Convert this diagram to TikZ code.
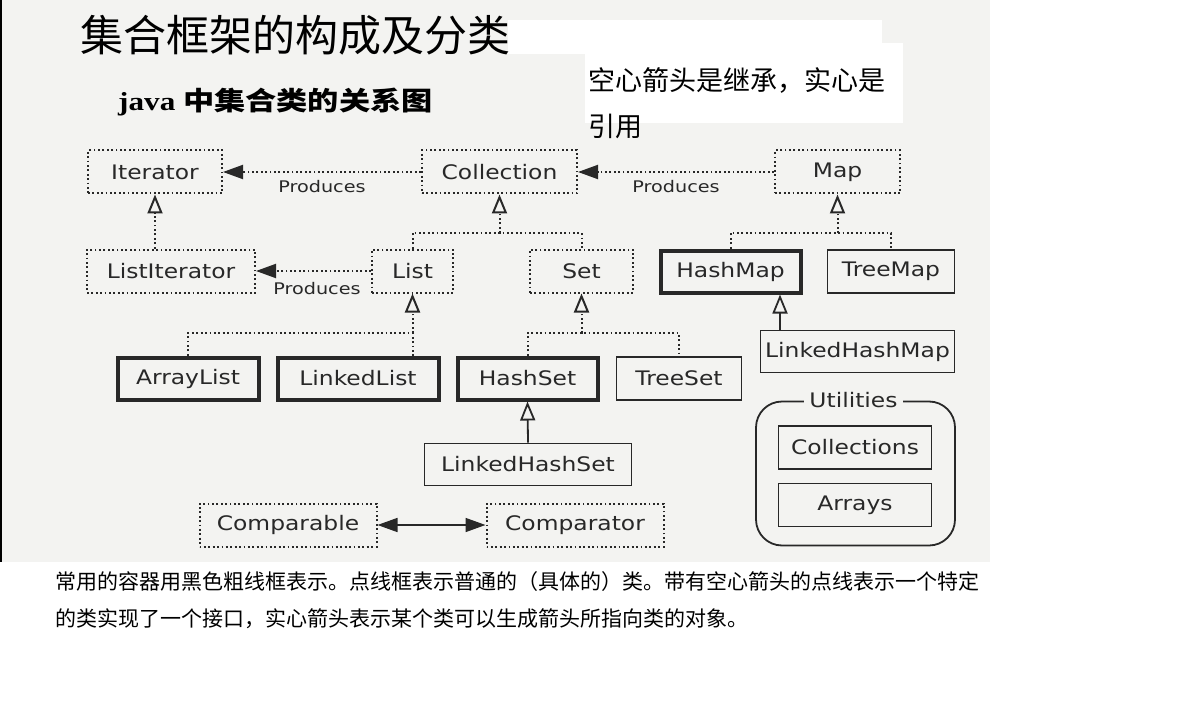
\documentclass[tikz,border=0pt]{standalone}
\usepackage{fontspec}
\usetikzlibrary{arrows.meta}
\newfontfamily\cjk{Noto Sans CJK SC}
\newfontfamily\dvs{DejaVu Sans}
\newfontfamily\tms{Liberation Serif}
\definecolor{bg}{RGB}{243,243,241}
\definecolor{ink}{RGB}{40,40,40}
\newcommand{\sx}[1]{\scalebox{1.17}[1]{#1}}
\tikzset{
  box/.style={draw=ink, minimum height=43pt, inner sep=0pt, text=ink,
    font=\dvs\fontsize{20}{24}\selectfont},
  dotbox/.style={box, line width=2pt, dash pattern=on 1.8pt off 2.6pt},
  thickbox/.style={box, line width=4pt},
  thinbox/.style={box, line width=1.6pt},
  dotline/.style={draw=ink, line width=2pt, dash pattern=on 1.8pt off 2.6pt},
  prod/.style={dotline, -{Triangle[length=20pt,width=14pt]}},
  inh/.style={dotline, -{Triangle[open,length=19pt,width=15pt]}},
  inhsolid/.style={draw=ink, line width=1.8pt, -{Triangle[open,length=19pt,width=15pt]}},
  both/.style={draw=ink, line width=1.6pt, {Triangle[length=20pt,width=14pt]}-{Triangle[length=20pt,width=14pt]}},
  lbl/.style={inner sep=0pt, text=ink, font=\dvs\fontsize{16}{18}\selectfont},
  cjktext/.style={inner sep=0pt, anchor=west, text=black},
}
\begin{document}
\begin{tikzpicture}[x=1pt,y=-1pt]
\useasboundingbox (0,0) rectangle (1182,703);
\fill[white] (0,0) rectangle (1182,703);
\fill[bg] (0,0) rectangle (990,562);
\fill[black] (0,0) rectangle (2,562);
\fill[white] (508,20) rectangle (882,54);
\fill[white] (585,43) rectangle (903,123);

% titles
\node[cjktext, font=\cjk\fontsize{43}{46}\selectfont] (title) at (80,35) {集合框架的构成及分类};
\node[cjktext, font=\fontsize{26}{30}\selectfont] (sub) at (118,102)
  {\scalebox{1.2}[1]{\tms\bfseries java \cjk\bfseries 中集合类的关系图}};
\node[cjktext, font=\cjk\fontsize{27}{30}\selectfont] (note1) at (588,80) {空心箭头是继承，实心是};
\node[cjktext, font=\cjk\fontsize{27}{30}\selectfont] (note2) at (588,126) {引用};

% nodes
\node[dotbox, minimum width=134pt] (Iterator) at (155,172) {\sx{Iterator}};
\node[dotbox, minimum width=155pt] (Collection) at (499.5,172) {\sx{Collection}};
\node[dotbox, minimum width=125pt] (Map) at (837.5,172) {\sx{Map}};
\node[dotbox, minimum width=168pt] (ListIterator) at (171,271) {\sx{ListIterator}};
\node[dotbox, minimum width=81pt] (List) at (412.5,271) {\sx{List}};
\node[dotbox, minimum width=103pt] (Set) at (581.5,271) {\sx{Set}};
\node[thickbox, minimum width=140pt, minimum height=42pt] (HashMap) at (730.5,271.5) {\sx{HashMap}};
\node[thinbox, minimum width=127pt] (TreeMap) at (891,271.5) {\sx{TreeMap}};
\node[thinbox, minimum width=194pt, minimum height=42pt] (LinkedHashMap) at (857.5,351.5) {\sx{LinkedHashMap}};
\node[thickbox, minimum width=141pt, minimum height=42pt] (ArrayList) at (188,378.5) {\sx{ArrayList}};
\node[thickbox, minimum width=161pt, minimum height=42pt] (LinkedList) at (358,378.5) {\sx{LinkedList}};
\node[thickbox, minimum width=140pt, minimum height=42pt] (HashSet) at (527.5,378.5) {\sx{HashSet}};
\node[thinbox, minimum width=125pt] (TreeSet) at (679,378.5) {\sx{TreeSet}};
\node[thinbox, minimum width=207pt, minimum height=42pt] (LinkedHashSet) at (528,464.5) {\sx{LinkedHashSet}};
\node[dotbox, minimum width=177pt] (Comparable) at (288,525) {\sx{Comparable}};
\node[dotbox, minimum width=177pt] (Comparator) at (575,525) {\sx{Comparator}};

% utilities group
\node[draw=ink, line width=1.8pt, rounded corners=26pt, minimum width=199pt, minimum height=144pt, inner sep=0pt] (Util) at (855.5,473.5) {};
\node[lbl, fill=bg, inner xsep=5pt, inner ysep=2pt, font=\dvs\fontsize{20}{24}\selectfont] (UtilLbl) at (853.5,400) {\sx{Utilities}};
\node[thinbox, minimum width=153pt] (Collections) at (855,447.5) {\sx{Collections}};
\node[thinbox, minimum width=153pt] (Arrays) at (855,505) {\sx{Arrays}};

% produces
\draw[prod] (Collection.west) -- (Iterator.east);
\draw[prod] (Map.west) -- (Collection.east);
\draw[prod] (List.west) -- (ListIterator.east);
\node[lbl] (p1) at (322,187) {\scalebox{1.2}[1]{Produces}};
\node[lbl] (p2) at (676,187) {\scalebox{1.2}[1]{Produces}};
\node[lbl] (p3) at (317,289) {\scalebox{1.2}[1]{Produces}};

% inheritance
\draw[inh] (Iterator.south |- ListIterator.north) -- (Iterator.south);

\coordinate (cj) at (499.5,233);
\draw[dotline] (List.north) |- (cj) -| (Set.north);
\draw[inh] (cj) -- (Collection.south);

\coordinate (mj) at (837.5,233);
\draw[dotline] (HashMap.north) |- (mj) -| (TreeMap.north);
\draw[inh] (mj) -- (Map.south);

\coordinate (lj) at (412.5,333);
\draw[dotline] (ArrayList.north) |- (lj) -- (List.south |- LinkedList.north);
\draw[inh] (lj) -- (List.south);

\coordinate (sj) at (581.5,333);
\draw[dotline] (HashSet.north) |- (sj) -| (TreeSet.north);
\draw[inh] (sj) -- (Set.south);

\coordinate (lhm) at (780,330);
\draw[inhsolid] (lhm) -- (lhm |- HashMap.south);
\draw[inhsolid] (LinkedHashSet.north) -- (HashSet.south);

\draw[both] (Comparable.east) -- (Comparator.west);

% bottom text
\node[cjktext, font=\cjk\fontsize{21}{24}\selectfont] (b1) at (55,582) {常用的容器用黑色粗线框表示。点线框表示普通的（具体的）类。带有空心箭头的点线表示一个特定};
\node[cjktext, font=\cjk\fontsize{21}{24}\selectfont] (b2) at (55,619) {的类实现了一个接口，实心箭头表示某个类可以生成箭头所指向类的对象。};
\end{tikzpicture}
\end{document}
